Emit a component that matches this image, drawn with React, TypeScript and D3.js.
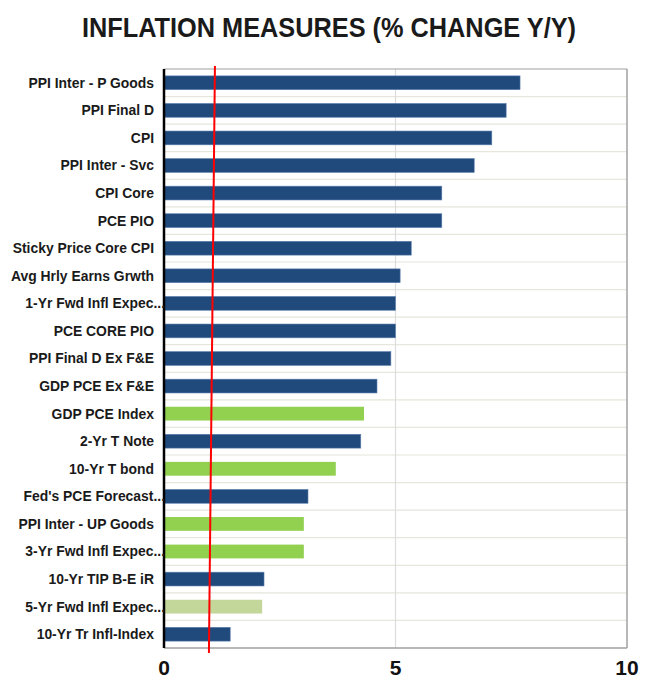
import React from "react";
import * as d3 from "d3";

const categories = [
  "PPI Inter - P Goods",
  "PPI Final D",
  "CPI",
  "PPI Inter - Svc",
  "CPI Core",
  "PCE PIO",
  "Sticky Price Core CPI",
  "Avg Hrly Earns Grwth",
  "1-Yr Fwd Infl Expec...",
  "PCE CORE PIO",
  "PPI Final D Ex F&E",
  "GDP PCE Ex F&E",
  "GDP PCE Index",
  "2-Yr T Note",
  "10-Yr T bond",
  "Fed's PCE Forecast...",
  "PPI Inter - UP Goods",
  "3-Yr Fwd Infl Expec...",
  "10-Yr TIP B-E iR",
  "5-Yr Fwd Infl Expec...",
  "10-Yr Tr Infl-Index",
];

const values = [7.69, 7.39, 7.08, 6.7, 6.0, 6.0, 5.34, 5.1, 5.0, 5.0, 4.9, 4.6, 4.32, 4.25, 3.71, 3.11, 3.02, 3.02, 2.16, 2.12, 1.43];

// color group per bar: 0 = dark blue, 1 = green, 2 = light green
const groups = [0, 0, 0, 0, 0, 0, 0, 0, 0, 0, 0, 0, 1, 0, 1, 0, 1, 1, 0, 2, 0];
const groupColors = ["#214a7c", "#92d050", "#c4d79b"];

const xTicks = [0, 5, 10];
const redLine = [1.1, 0.97]; // value at top, value at bottom
const title = "INFLATION MEASURES (% CHANGE Y/Y)";

export default function App() {
  const W = 652;
  const H = 679;
  const left = 164;
  const right = 627;
  const top = 69;
  const bottom = 648;

  const x = d3.scaleLinear().domain([0, 10]).range([left, right]);
  const y = d3.scaleBand<string>().domain(categories).range([top, bottom]).paddingInner(0.5).paddingOuter(0.25);
  const band = d3.scaleBand<string>().domain(categories).range([top, bottom]);

  const font = "'Liberation Sans', Arial, Helvetica, sans-serif";

  return (
    <svg width={W} height={H} style={{ position: "absolute", left: 0, top: 0, background: "#fff" }}>
      <text x={329} y={37} textAnchor="middle" fontFamily={font} fontWeight="bold" fontSize={28} fill="#1a1a1a" textLength={494} lengthAdjust="spacingAndGlyphs">
        {title}
      </text>

      {/* horizontal band separators */}
      {categories.slice(1).map((c) => (
        <line key={"g" + c} x1={left} x2={right} y1={band(c)!} y2={band(c)!} stroke="#e6e6dc" strokeWidth={1.2} />
      ))}
      {/* vertical grid at 5 */}
      <line x1={x(5)} x2={x(5)} y1={top} y2={bottom} stroke="#dcdcdc" strokeWidth={1.2} />

      {/* frame */}
      <line x1={left} x2={right} y1={top} y2={top} stroke="#a0a0a0" strokeWidth={1.2} />
      <line x1={right} x2={right} y1={top} y2={bottom} stroke="#a0a0a0" strokeWidth={1.5} />
      <line x1={left} x2={right} y1={bottom} y2={bottom} stroke="#a0a0a0" strokeWidth={1.5} />

      {/* bars */}
      {categories.map((c, i) => (
        <rect
          key={c}
          x={x(0)}
          y={y(c)!}
          width={x(values[i]) - x(0)}
          height={y.bandwidth()}
          fill={groupColors[groups[i]]}
          stroke={groups[i] === 0 ? "#5a7fae" : "none"}
          strokeWidth={0.6}
        />
      ))}

      {/* left axis line */}
      <line x1={left} x2={left} y1={top} y2={bottom} stroke="#000" strokeWidth={2.5} />

      {/* red reference line */}
      <line x1={x(redLine[0])} x2={x(redLine[1])} y1={top - 3} y2={bottom + 5} stroke="#ff0000" strokeWidth={2} />

      {/* category labels */}
      {categories.map((c) => (
        <text
          key={"l" + c}
          x={c.endsWith("...") ? 165 : 154}
          y={band(c)! + band.bandwidth() / 2}
          dy="0.35em"
          textAnchor="end"
          fontFamily={font}
          fontWeight="bold"
          fontSize={13.9}
          fill="#1a1a1a"
        >
          {c}
        </text>
      ))}

      {/* x tick labels */}
      {xTicks.map((t) => (
        <text key={"t" + t} x={x(t)} y={674.5} textAnchor="middle" fontFamily={font} fontWeight="bold" fontSize={21} fill="#111">
          {t}
        </text>
      ))}
    </svg>
  );
}
